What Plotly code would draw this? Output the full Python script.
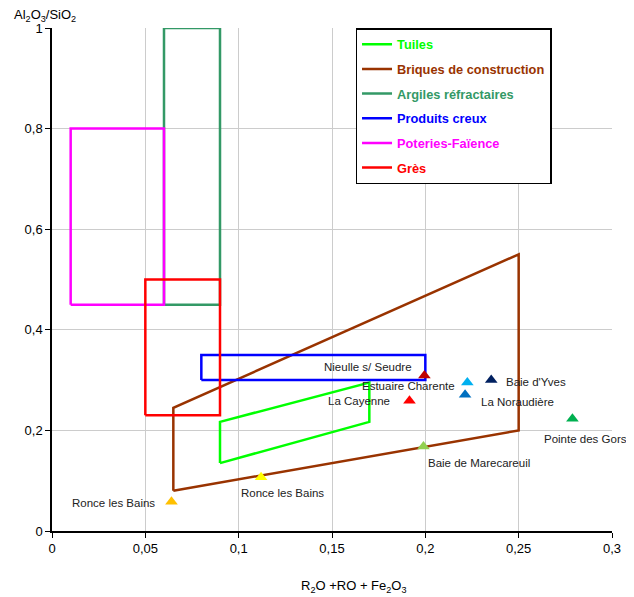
import plotly.graph_objects as go

# Zones (polygons) : x = R2O+RO+Fe2O3, y = Al2O3/SiO2
zone_names = ["Tuiles", "Briques de construction", "Argiles réfractaires",
              "Produits creux", "Poteries-Faïence", "Grès"]
zone_colors = ["#00FF00", "#993300", "#339966", "#0000FF", "#FF00FF", "#FF0000"]
tuiles_x = [0.09, 0.09, 0.17, 0.17, 0.09]
tuiles_y = [0.135, 0.217, 0.295, 0.217, 0.135]
briques_x = [0.065, 0.065, 0.25, 0.25, 0.065]
briques_y = [0.08, 0.245, 0.55, 0.20, 0.08]
argiles_x = [0.06, 0.06, 0.09, 0.09, 0.06]
argiles_y = [0.45, 1.0, 1.0, 0.45, 0.45]
creux_x = [0.08, 0.08, 0.20, 0.20, 0.08]
creux_y = [0.30, 0.35, 0.35, 0.30, 0.30]
poteries_x = [0.01, 0.01, 0.06, 0.06, 0.01]
poteries_y = [0.45, 0.80, 0.80, 0.45, 0.45]
gres_x = [0.05, 0.05, 0.09, 0.09, 0.05]
gres_y = [0.23, 0.50, 0.50, 0.23, 0.23]
zones_x = [tuiles_x, briques_x, argiles_x, creux_x, poteries_x, gres_x]
zones_y = [tuiles_y, briques_y, argiles_y, creux_y, poteries_y, gres_y]

# Sites
site_names = ["Ronce les Bains", "Ronce les Bains", "Baie de Marecareuil", "La Cayenne",
              "Nieulle s/ Seudre", "Estuaire Charente", "La Noraudière", "Baie d'Yves",
              "Pointe des Gors"]
site_x = [0.064, 0.112, 0.199, 0.1915, 0.1995, 0.2225, 0.2213, 0.2353, 0.2788]
site_y = [0.058, 0.107, 0.168, 0.259, 0.309, 0.295, 0.271, 0.300, 0.223]
site_colors = ["#FFC000", "#FFFF00", "#92D050", "#FF0000", "#C00000", "#00B0F0",
               "#0070C0", "#002060", "#00B050"]
# label placement (style)
lab_anchor = ["right", "center", "left", "right", "right", "right", "left", "left", "center"]
lab_dx = [-14, 21, 3, -17, -10, -10, 14, 13, 13]
lab_dy = [-1, -16, -16, 0, 9, -3, -7, -2, -20]

fig = go.Figure()
for i, n in enumerate(zone_names):
    fig.add_trace(go.Scatter(
        x=zones_x[i], y=zones_y[i], mode="lines",
        line=dict(color=zone_colors[i], width=2.5),
        name="<b><span style='color:%s'>%s</span></b>" % (zone_colors[i], n),
        legendgroup="g%d" % i, hoverinfo="skip"))

fig.add_trace(go.Scatter(
    x=site_x, y=site_y, mode="markers", showlegend=False,
    marker=dict(symbol="triangle-up", size=11, color=site_colors, line=dict(width=0))))

for i, n in enumerate(site_names):
    fig.add_annotation(x=site_x[i], y=site_y[i], text=n, showarrow=False,
                       xanchor=lab_anchor[i], yanchor="middle",
                       xshift=lab_dx[i], yshift=lab_dy[i],
                       font=dict(size=11.5, color="#222222"))

fig.add_annotation(xref="paper", yref="paper", x=-0.0714, y=1.0, yshift=2,
                   xanchor="left", yanchor="bottom", showarrow=False,
                   text="Al<sub>2</sub>O<sub>3</sub>/SiO<sub>2</sub>",
                   font=dict(size=13, color="black"))
fig.add_annotation(xref="paper", yref="paper", x=0.54, y=0, yshift=-45,
                   xanchor="center", yanchor="top", showarrow=False,
                   text="R<sub>2</sub>O +RO + Fe<sub>2</sub>O<sub>3</sub>",
                   font=dict(size=13, color="black"))

fig.update_layout(
    width=626, height=589,
    margin=dict(l=44, r=22, t=20, b=66),
    paper_bgcolor="white", plot_bgcolor="white",
    separators=", ",
    font=dict(family="Liberation Sans, Arial, sans-serif", size=13, color="black"),
    showlegend=True,
    legend=dict(x=0.542, y=1.0, xanchor="left", yanchor="top",
                bordercolor="black", borderwidth=1.5, bgcolor="white",
                font=dict(size=12.8), tracegroupgap=5),
    xaxis=dict(range=[0, 0.3], dtick=0.05, tick0=0, showgrid=True, gridcolor="#CCCCCC",
               gridwidth=1, showline=True, linecolor="black", linewidth=1.5,
               ticks="outside", ticklen=5, tickcolor="black", zeroline=False,
               fixedrange=True),
    yaxis=dict(range=[0, 1], dtick=0.2, tick0=0, showgrid=True, gridcolor="#CCCCCC",
               gridwidth=1, showline=True, linecolor="black", linewidth=1.5,
               ticks="outside", ticklen=5, tickcolor="black", zeroline=False,
               fixedrange=True),
)

fig.write_html("out.html")
